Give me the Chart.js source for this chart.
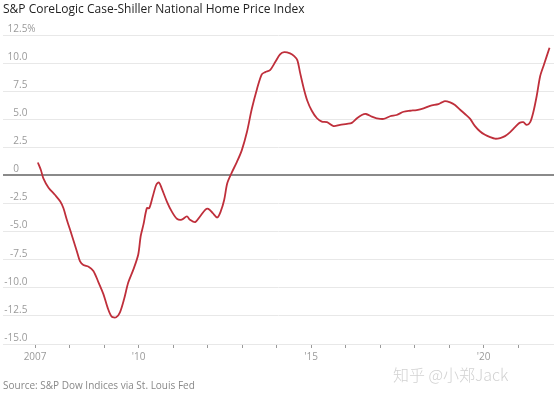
<!DOCTYPE html>
<html lang="en">
<head>
    <meta charset="UTF-8">
    <title>S&amp;P CoreLogic Case-Shiller National Home Price Index</title>
    <script src="https://cdn.jsdelivr.net/npm/chart.js"></script>
    <style>
        html, body { margin: 0; padding: 0; background: #fff; }
        body { width: 554px; height: 398px; position: relative; overflow: hidden; font-family: "Open Sans", sans-serif; }
        #wrap { position: absolute; left: 0; top: 0; width: 554px; height: 398px; }
        .title { position: absolute; left: 3px; top: 0px; font-size: 12px; font-weight: 500; color: #222; white-space: nowrap; }
        .source { position: absolute; left: 3px; top: 378px; font-size: 10px; color: #888; white-space: nowrap; }
        .mark { position: absolute; left: 393px; top: 362px; font-size: 16px; color: #d2d2d2; white-space: nowrap; font-family: "Noto Sans CJK SC", "Open Sans", sans-serif; font-weight: 300; }
    </style>
</head>
<body>
    <div id="wrap"><canvas id="hpi"></canvas></div>
    <div class="title">S&amp;P CoreLogic Case-Shiller National Home Price Index</div>
    <div class="source">Source: S&amp;P Dow Indices via St. Louis Fed</div>
    <div class="mark">知乎 @小郑Jack</div>

    <script>
        // --- Daten (Jahr als Dezimalzahl, Veränderung ggü. Vorjahr in %) ---
        const dates = [
            2007.08, 2007.17, 2007.24, 2007.39, 2007.58, 2007.73, 2007.82, 2007.92, 2008.06, 2008.21,
            2008.30, 2008.40, 2008.55, 2008.69, 2008.84, 2008.98, 2009.10, 2009.22, 2009.35, 2009.46,
            2009.58, 2009.70, 2009.85, 2009.99, 2010.06, 2010.14, 2010.24, 2010.31, 2010.41, 2010.51,
            2010.59, 2010.67, 2010.82, 2010.96, 2011.11, 2011.25, 2011.40, 2011.49, 2011.64, 2011.78,
            2011.93, 2012.02, 2012.15, 2012.28, 2012.38, 2012.48, 2012.57, 2012.70, 2012.85, 2012.99,
            2013.14, 2013.28, 2013.43, 2013.57, 2013.67, 2013.81, 2013.96, 2014.10, 2014.22, 2014.39,
            2014.51, 2014.60, 2014.68, 2014.78, 2014.89, 2015.02, 2015.17, 2015.31, 2015.46, 2015.65,
            2015.84, 2016.04, 2016.18, 2016.33, 2016.47, 2016.59, 2016.76, 2016.90, 2017.10, 2017.29,
            2017.48, 2017.68, 2017.87, 2018.06, 2018.26, 2018.45, 2018.69, 2018.79, 2018.88, 2019.03,
            2019.17, 2019.32, 2019.46, 2019.61, 2019.75, 2019.90, 2020.04, 2020.19, 2020.33, 2020.48,
            2020.62, 2020.77, 2020.91, 2021.04, 2021.15, 2021.25, 2021.35, 2021.44, 2021.54, 2021.64,
            2021.75, 2021.91
        ];
        const hpiChange = [
            1.15, 0.47, -0.26, -1.09, -1.74, -2.32, -2.9, -3.94, -5.27, -6.74,
            -7.62, -7.97, -8.12, -8.5, -9.53, -10.56, -11.74, -12.56, -12.62, -12.18,
            -11.0, -9.53, -8.36, -7.03, -5.41, -4.38, -2.91, -2.91, -1.88, -0.85,
            -0.62, -1.15, -2.32, -3.2, -3.85, -3.94, -3.65, -3.94, -4.15, -3.65,
            -3.06, -2.97, -3.35, -3.74, -3.2, -2.18, -0.7, 0.25, 1.21, 2.23,
            3.86, 5.91, 7.68, 9.0, 9.2, 9.38, 10.09, 10.77, 10.97, 10.86,
            10.62, 10.26, 9.15, 7.83, 6.65, 5.76, 5.09, 4.79, 4.74, 4.39,
            4.5, 4.59, 4.68, 5.09, 5.38, 5.47, 5.23, 5.09, 5.03, 5.27,
            5.38, 5.67, 5.76, 5.82, 5.97, 6.2, 6.35, 6.5, 6.62, 6.5,
            6.27, 5.85, 5.47, 5.03, 4.39, 3.91, 3.62, 3.41, 3.27, 3.33,
            3.5, 3.86, 4.3, 4.68, 4.74, 4.5, 4.74, 5.62, 7.09, 8.85,
            9.88, 11.36
        ];

        // Achsen
        const yearTicks = [2007, 2008, 2009, 2010, 2011, 2012, 2013, 2014, 2015, 2016, 2017, 2018, 2019, 2020, 2021];
        const yearLabels = { 2007: '2007', 2010: "'10", 2015: "'15", 2020: "'20" };
        const yTicks = [-15, -12.5, -10, -7.5, -5, -2.5, 0, 2.5, 5, 7.5, 10, 12.5];

        const points = dates.map((d, i) => ({ x: d, y: hpiChange[i] }));

        // Y-Beschriftung über der Gitterlinie, am Dezimalpunkt ausgerichtet
        const yLabelPlugin = {
            id: 'yLabels',
            afterDraw(chart) {
                const y = chart.scales.y;
                const ctx = chart.ctx;
                ctx.save();
                ctx.font = '10px "Open Sans", sans-serif';
                ctx.fillStyle = '#9a9a9a';
                ctx.textBaseline = 'bottom';
                const anchor = 19;
                yTicks.forEach(v => {
                    let txt = v === 0 ? '0' : v.toFixed(1);
                    if (v === 12.5) txt = '12.5%';
                    const parts = txt.split('.');
                    const intW = ctx.measureText(parts[0]).width;
                    ctx.textAlign = 'left';
                    ctx.fillText(txt, anchor - intW, y.getPixelForValue(v) - 1);
                });
                ctx.restore();
            }
        };

        const ctxH = document.getElementById('hpi').getContext('2d');
        new Chart(ctxH, {
            type: 'line',
            data: {
                datasets: [{
                    data: points,
                    borderColor: '#bf2f3b',
                    borderWidth: 1.8,
                    pointRadius: 0,
                    tension: 0.3,
                    fill: false
                }]
            },
            options: {
                responsive: true,
                maintainAspectRatio: false,
                animation: false,
                layout: { padding: { top: 35, left: 3, right: 0, bottom: 32 } },
                plugins: {
                    legend: { display: false },
                    tooltip: { enabled: false }
                },
                scales: {
                    x: {
                        type: 'linear',
                        min: 2006.07,
                        max: 2022.04,
                        afterBuildTicks: scale => { scale.ticks = yearTicks.map(v => ({ value: v })); },
                        ticks: {
                            autoSkip: false,
                            maxRotation: 0,
                            padding: 3,
                            color: '#9a9a9a',
                            font: { family: '"Open Sans", sans-serif', size: 10 },
                            callback: v => yearLabels[v] || ''
                        },
                        grid: {
                            drawOnChartArea: false,
                            drawTicks: true,
                            tickLength: 4,
                            tickColor: '#9a9a9a'
                        },
                        border: { display: false }
                    },
                    y: {
                        min: -15,
                        max: 12.5,
                        afterBuildTicks: scale => { scale.ticks = yTicks.map(v => ({ value: v })); },
                        ticks: { display: false },
                        grid: {
                            drawTicks: false,
                            color: ctx => ctx.tick && ctx.tick.value === 0 ? '#8a8a8a' : '#e8e8e8',
                            lineWidth: ctx => ctx.tick && ctx.tick.value === 0 ? 2 : 1
                        },
                        border: { display: false }
                    }
                }
            },
            plugins: [yLabelPlugin]
        });
    </script>
</body>
</html>
